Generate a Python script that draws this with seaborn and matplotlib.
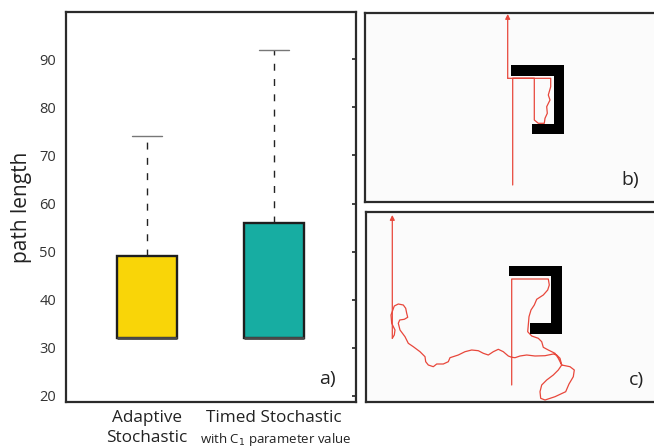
import matplotlib
matplotlib.use('Agg')
import matplotlib.pyplot as plt
from matplotlib.patches import Rectangle
import pandas as pd
import seaborn as sns

# panel a: path length per planner
methods = ['Adaptive\nStochastic', 'Timed Stochastic']
adaptive_lengths = [32, 32, 32, 49, 74]
timed_lengths = [32, 32, 32, 56, 92]
box_colors = ['#F9D508', '#17ADA2']
y_ticks = [20, 30, 40, 50, 60, 70, 80, 90]

# panels b, c: robot paths in figure pixels (x right, y down)
b_path = [(512.7, 185), (512.7, 78.3), (550.7, 78.3), (550.7, 86.7), (548.3, 95),
          (550, 100), (546.7, 106.7), (547.3, 113.3), (545, 118.3), (544.3, 123.3),
          (538.3, 123.3), (534.3, 120), (534.3, 78.3), (507.7, 78.3), (507.7, 14)]
b_walls = [(510.7, 65, 53.3, 11), (554.3, 65, 9.7, 69), (532.3, 124, 31.7, 10)]

c_path = [(511.7, 385), (511.7, 279), (548.3, 279), (549.3, 285), (547.7, 290),
          (543.3, 295), (536.7, 299.3), (534.3, 305), (531, 310), (529, 316.7),
          (528.3, 325), (527.7, 331.7), (531.7, 336), (538.3, 338.3), (541.7, 341.7),
          (543.3, 347.3), (548.3, 350), (555, 353.3), (558.3, 358.3), (561.7, 365),
          (570, 366.7), (574.3, 370), (573.3, 376.7), (569, 384), (565.7, 391.7),
          (555, 396.7), (545, 400), (540.7, 398.3), (540, 391.7), (541.7, 385),
          (546.7, 380), (553.3, 375), (558.3, 370), (561.7, 365), (560, 358.3),
          (556.7, 355), (553.3, 354), (545, 355.7), (535, 356), (526.7, 355),
          (520, 356), (515, 357.7), (511.7, 357.3), (508.3, 356), (503.3, 351.7),
          (498.3, 349.3), (493.3, 351.7), (488.3, 355), (483.3, 353.3), (478.3, 350.7),
          (471.7, 350), (465, 351.7), (458.3, 355), (450, 357.7), (448.3, 361.7),
          (443.3, 364), (436.7, 364), (433.3, 366.7), (428.3, 365), (425.7, 361.7),
          (425, 356.7), (420, 351.7), (413.3, 346.7), (408.3, 343.3), (405, 336.7),
          (400, 330), (398.3, 323.3), (399.7, 320), (404.3, 319.3), (407.7, 317.3),
          (406.7, 313.3), (405.7, 308.3), (403.3, 305), (398.3, 304), (394.3, 306),
          (391, 315), (391.7, 323.3), (395, 330), (394.3, 335), (392.3, 338.3),
          (392.3, 215)]
c_walls = [(509, 265.7, 52.7, 10.3), (551, 265.7, 10.7, 68.3), (530, 323.3, 31.7, 10.7)]

PATH_RED = '#E8473B'
SPINE = '#2b2b2b'
W, H = 654, 447

sns.set_theme(style='white')
plt.rcParams['font.family'] = ['Open Sans', 'DejaVu Sans']

fig = plt.figure(figsize=(W / 100, H / 100), dpi=100)


def px_axes(left, top, right, bottom):
    return fig.add_axes([left / W, 1 - bottom / H, (right - left) / W, (bottom - top) / H])


# ---- a) boxplot
ax = px_axes(66, 12, 356, 402)
df = pd.DataFrame({
    'method': [methods[0]] * len(adaptive_lengths) + [methods[1]] * len(timed_lengths),
    'length': adaptive_lengths + timed_lengths,
})
sns.boxplot(data=df, x='method', y='length', hue='method', palette=box_colors,
            saturation=1, width=0.47, whis=(0, 100), showfliers=False, legend=False,
            linecolor='#1e1e1e', linewidth=1.7, ax=ax,
            whiskerprops=dict(linestyle=(0, (5, 6)), linewidth=1.0, color='#222222'),
            capprops=dict(color='#777777', linewidth=1.0),
            medianprops=dict(color='#4a4a4a', linewidth=2.0))
ax.set_xlim(-0.638, 1.646)
ax.set_ylim(18.75, 99.8)
ax.set_yticks(y_ticks)
ax.set_xlabel('')
ax.set_ylabel('path length', fontsize=15, color='#222222', labelpad=5)
ax.set_xticks([0, 1])
ax.set_xticklabels(methods, fontsize=12.3, color='#222222', linespacing=1.3)
ax.tick_params(axis='y', direction='in', length=3, right=True, pad=7,
               labelsize=10.5, labelcolor='#333333', color=SPINE)
ax.tick_params(axis='x', direction='in', length=3, pad=6, color=SPINE)
ax.text((276 - 66) / 290, -(431 - 402) / 390, 'with C$_1$ parameter value',
        transform=ax.transAxes, ha='center', va='top', fontsize=9.5, color='#222222')
ax.text(0.9, 0.06, 'a)', transform=ax.transAxes, fontsize=14, color='#222222',
        ha='center', va='center')
for s in ax.spines.values():
    s.set_color(SPINE)
    s.set_linewidth(1.6)

# ---- b) and c) trajectories
panels = [
    (b_path, b_walls, (365, 13, 668, 202), 'b)', (630, 180)),
    (c_path, c_walls, (366, 212, 668, 402), 'c)', (636, 380)),
]
for path, walls, (l, t, r, b), tag, (tx, ty) in panels:
    pax = px_axes(l, t, r, b)
    pax.set_facecolor('#fbfbfb')
    xs = [p[0] for p in path]
    ys = [p[1] for p in path]
    sns.lineplot(x=xs[:-1], y=ys[:-1], sort=False, estimator=None, color=PATH_RED,
                 linewidth=0.9, ax=pax)
    pax.annotate('', xy=(xs[-1], ys[-1]), xytext=(xs[-2], ys[-2]),
                 arrowprops=dict(arrowstyle='-|>', color=PATH_RED, lw=0.9,
                                 mutation_scale=7, shrinkA=0, shrinkB=0))
    for wx, wy, ww, wh in walls:
        pax.add_patch(Rectangle((wx, wy), ww, wh, color='black', lw=0, zorder=3))
    pax.text(tx, ty, tag, fontsize=14, color='#222222', ha='center', va='center')
    pax.set_xlim(l, r)
    pax.set_ylim(b, t)
    pax.set_xticks([])
    pax.set_yticks([])
    for s in pax.spines.values():
        s.set_color(SPINE)
        s.set_linewidth(1.6)

fig.savefig('out.png', dpi=100)
